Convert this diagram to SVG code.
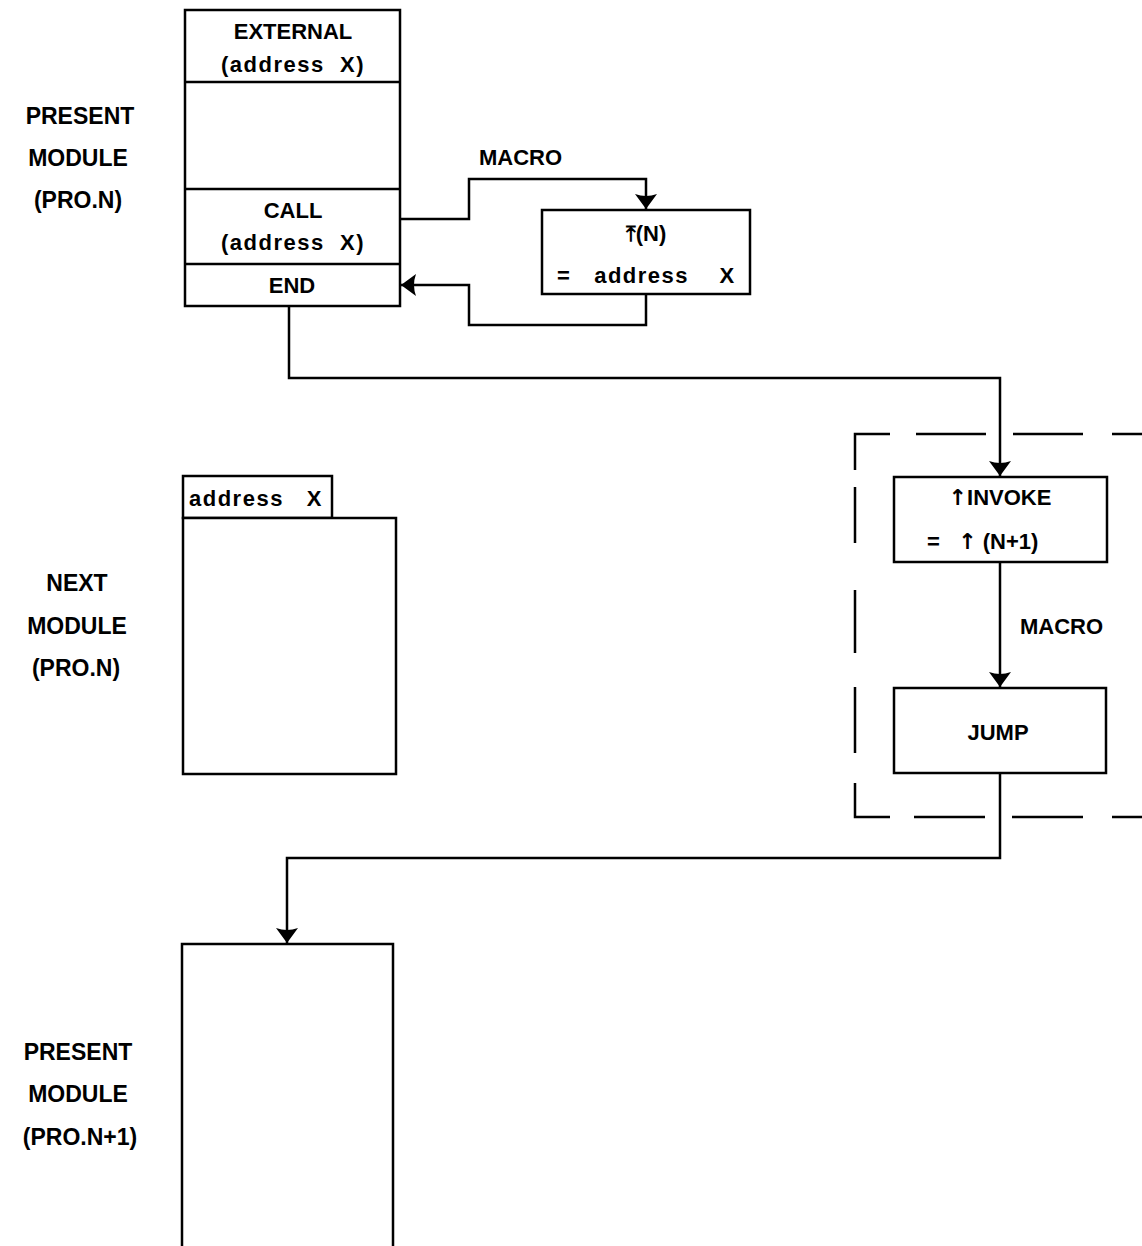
<svg xmlns="http://www.w3.org/2000/svg" width="1142" height="1246" viewBox="0 0 1142 1246">
<defs>
<style>
.box{fill:#fff;stroke:#000;stroke-width:2.5}
.ln{fill:none;stroke:#000;stroke-width:2.5}
.dash{fill:none;stroke:#000;stroke-width:2.5}
text{font-family:"Liberation Sans","DejaVu Sans",sans-serif;font-weight:bold;font-size:22px;fill:#000;white-space:pre}
.c{text-anchor:middle}
.lb{font-size:23px}
.sp{letter-spacing:1.5px}
.ar{font-family:"DejaVu Sans",sans-serif;font-size:22px}
</style>
<marker id="ah" viewBox="0 0 22 15" refX="11" refY="15" markerWidth="22" markerHeight="15" markerUnits="userSpaceOnUse" orient="0">
<path d="M0,0 Q11,4 22,0 L11,15 Z" fill="#000"/>
</marker>
<marker id="al" viewBox="0 0 15 22" refX="0" refY="11" markerWidth="15" markerHeight="22" markerUnits="userSpaceOnUse" orient="0">
<path d="M15,0 Q11,11 15,22 L0,11 Z" fill="#000"/>
</marker>
</defs>
<rect width="1142" height="1246" fill="#fff"/>

<g id="labels">
<text class="c lb" x="80" y="124">PRESENT</text>
<text class="c lb" x="78" y="166">MODULE</text>
<text class="c lb" x="78" y="208">(PRO.N)</text>
<text class="c lb" x="77" y="591">NEXT</text>
<text class="c lb" x="77" y="634">MODULE</text>
<text class="c lb" x="76" y="676">(PRO.N)</text>
<text class="c lb" x="78" y="1060">PRESENT</text>
<text class="c lb" x="78" y="1102">MODULE</text>
<text class="c lb" x="80" y="1145">(PRO.N+1)</text>
<text x="479" y="165">MACRO</text>
<text x="1020" y="634">MACRO</text>
</g>

<g id="connectors">
<path class="ln" d="M400,219 H469 V179 H646 V209" marker-end="url(#ah)"/>
<path class="ln" d="M646,294 V325 H469 V285 H401" marker-end="url(#al)"/>
<path class="ln" d="M289,306 V378 H1000 V476" marker-end="url(#ah)"/>
<path class="ln" d="M1000,562 V687" marker-end="url(#ah)"/>
<path class="ln" d="M1000,773 V858 H287 V943" marker-end="url(#ah)"/>
</g>

<g id="present-module">
<rect class="box" x="185" y="10" width="215" height="296"/>
<line class="ln" x1="185" y1="82" x2="400" y2="82"/>
<line class="ln" x1="185" y1="189" x2="400" y2="189"/>
<line class="ln" x1="185" y1="264" x2="400" y2="264"/>
<text class="c" x="293" y="39">EXTERNAL</text>
<text class="c sp" x="293" y="72">(address  X)</text>
<text class="c" x="293" y="218">CALL</text>
<text class="c sp" x="293" y="250">(address  X)</text>
<text class="c" x="292" y="293">END</text>
</g>

<g id="macro-box">
<rect class="box" x="542" y="210" width="208" height="84"/>
<text class="c" x="646" y="241"><tspan class="ar">⤒</tspan>(N)</text>
<text class="sp" x="557" y="283">=   address    X</text>
</g>

<g id="next-module">
<rect class="box" x="183" y="476" width="149" height="42"/>
<rect class="box" x="183" y="518" width="213" height="256"/>
<text class="sp" x="189" y="506">address   X</text>
</g>

<g id="dashed-region">
<path class="dash" d="M890,434 H855 V470 M916,434 H986 M1013,434 H1083 M1112,434 H1142 M855,487 V543 M855,590 V653 M855,687 V753 M855,783 V817 H890 M914,817 H985 M1012,817 H1083 M1112,817 H1142"/>
</g>

<g id="invoke">
<rect class="box" x="894" y="477" width="213" height="85"/>
<text class="c" x="1000" y="505"><tspan class="ar">↑</tspan>INVOKE</text>
<text x="927" y="549">=   <tspan class="ar">↑</tspan> (N+1)</text>
</g>

<g id="jump">
<rect class="box" x="894" y="688" width="212" height="85"/>
<text class="c" x="998" y="740">JUMP</text>
</g>

<g id="present-module-n1">
<rect class="box" x="182" y="944" width="211" height="310"/>
</g>
</svg>
